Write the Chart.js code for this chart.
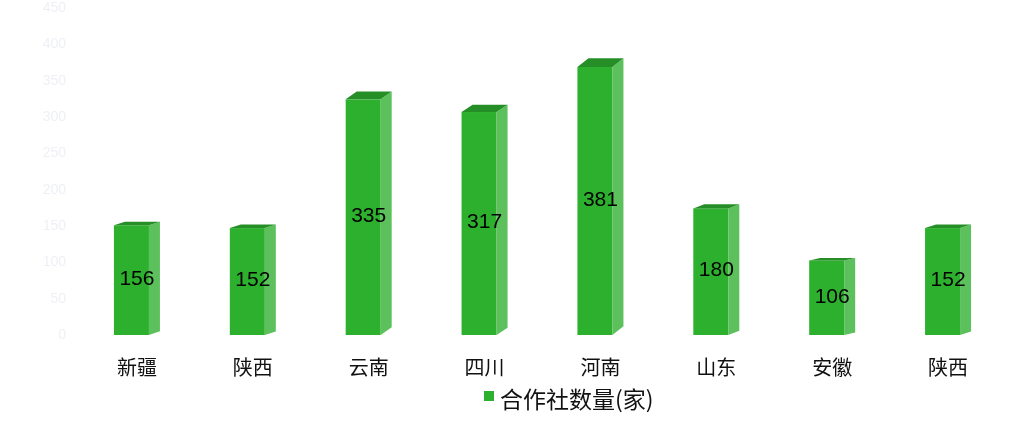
<!DOCTYPE html>
<html>
<head>
<meta charset="utf-8">
<script src="https://cdn.jsdelivr.net/npm/chart.js@4"></script>
<style>
  html, body { margin: 0; padding: 0; background: #fff; }
  #wrap { width: 1026px; height: 423px; }
</style>
</head>
<body>
<div id="wrap"><canvas id="chart" width="1026" height="423"></canvas></div>
<script>
const provinces = ['新疆', '陕西', '云南', '四川', '河南', '山东', '安徽', '陕西'];
const coopCounts = [156, 152, 335, 317, 381, 180, 106, 152];
const seriesName = '合作社数量(家)';

const FRONT = 'rgb(45,176,45)';
const SIDE = 'rgb(92,192,92)';
const TOP = 'rgb(38,142,38)';

// draws the pseudo 3D bars (front, side, top) from the bar elements
const bar3d = {
  id: 'bar3d',
  afterDatasetsDraw(chart) {
    const ctx = chart.ctx;
    const meta = chart.getDatasetMeta(0);
    const values = chart.data.datasets[0].data;
    ctx.save();
    meta.data.forEach((bar, i) => {
      const { x, y, base, width } = bar.getProps(['x', 'y', 'base', 'width'], true);
      const dx = 11;
      const dy = Math.max(2, (base - y) * 0.032);
      const x0 = x - width / 2;
      const x1 = x + width / 2 - dx;
      const yb = y;
      const yf = y + dy;

      ctx.fillStyle = FRONT;
      ctx.fillRect(x0, yf, x1 - x0, base - yf);

      ctx.fillStyle = SIDE;
      ctx.beginPath();
      ctx.moveTo(x1, yf);
      ctx.lineTo(x1 + dx, yb);
      ctx.lineTo(x1 + dx, base - dy);
      ctx.lineTo(x1, base);
      ctx.closePath();
      ctx.fill();

      ctx.fillStyle = TOP;
      ctx.beginPath();
      ctx.moveTo(x0, yf);
      ctx.lineTo(x0 + dx, yb);
      ctx.lineTo(x1 + dx, yb);
      ctx.lineTo(x1, yf);
      ctx.closePath();
      ctx.fill();

      ctx.fillStyle = '#000';
      ctx.font = '21px "Liberation Sans", Arial, sans-serif';
      ctx.textAlign = 'center';
      ctx.textBaseline = 'middle';
      ctx.fillText(String(values[i]), x, (yf + base) / 2 - 1);
    });
    ctx.restore();
  },
  afterDraw(chart) {
    // legend, placed like the reference
    const ctx = chart.ctx;
    ctx.save();
    ctx.fillStyle = FRONT;
    ctx.fillRect(484, 391, 10, 10);
    ctx.fillStyle = '#111';
    ctx.font = '23px "Noto Sans CJK SC", sans-serif';
    ctx.textAlign = 'left';
    ctx.textBaseline = 'middle';
    ctx.fillText(seriesName, 500, 399);
    ctx.restore();
  }
};

new Chart(document.getElementById('chart'), {
  type: 'bar',
  data: {
    labels: provinces,
    datasets: [{
      label: seriesName,
      data: coopCounts,
      backgroundColor: 'rgba(0,0,0,0)',
      borderWidth: 0,
      barThickness: 46
    }]
  },
  options: {
    responsive: false,
    animation: false,
    layout: { padding: { left: 0, right: 20, top: 8, bottom: 32 } },
    scales: {
      y: {
        min: 0,
        max: 450,
        ticks: {
          stepSize: 50,
          color: 'rgb(238,240,245)',
          font: { size: 14, family: '"Liberation Sans", Arial, sans-serif' },
          padding: 5
        },
        grid: { display: false },
        border: { display: false },
        afterFit(scale) {
          scale.width = 79;
          scale.paddingTop = 0;
          scale.paddingBottom = 0;
        }
      },
      x: {
        ticks: {
          color: '#111',
          font: { size: 20, family: '"Noto Sans CJK SC", sans-serif' },
          padding: 12
        },
        grid: { display: false },
        border: { display: false }
      }
    },
    plugins: {
      tooltip: { enabled: false },
      legend: { display: false }
    }
  },
  plugins: [bar3d]
});
</script>
</body>
</html>
